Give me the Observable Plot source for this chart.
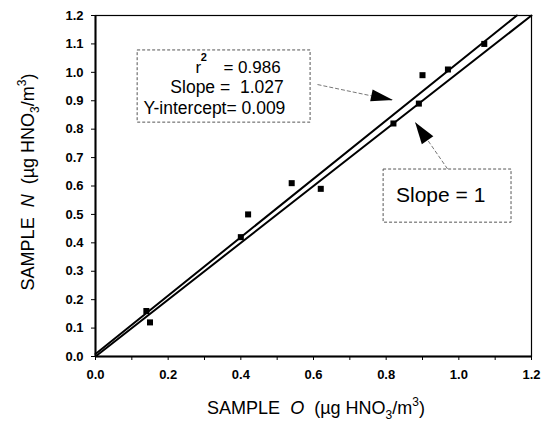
<!DOCTYPE html>
<html><head><meta charset="utf-8">
<script src="https://cdn.jsdelivr.net/npm/d3@7"></script>
<script src="https://cdn.jsdelivr.net/npm/@observablehq/plot@0.6"></script>
<style>body{margin:0;background:#fff}</style>
</head><body><div id="chart"></div>
<script>
// Data
const sampleO = [0.14, 0.15, 0.40, 0.42, 0.54, 0.62, 0.82, 0.89, 0.90, 0.97, 1.07];
const sampleN = [0.16, 0.12, 0.42, 0.50, 0.61, 0.59, 0.82, 0.89, 0.99, 1.01, 1.10];
const fitSlope = 1.027, fitIntercept = 0.009, r2 = 0.986;
const xTickVals = [0,0.1,0.2,0.3,0.4,0.5,0.6,0.7,0.8,0.9,1.0,1.1,1.2];
const yTickVals = [0,0.1,0.2,0.3,0.4,0.5,0.6,0.7,0.8,0.9,1.0,1.1,1.2];
const axisMax = 1.2;

const points = sampleO.map((x, i) => ({x, y: sampleN[i]}));
const fitLine = [{x: 0, y: fitIntercept}, {x: (axisMax - fitIntercept) / fitSlope, y: axisMax}];
const oneLine = [{x: 0, y: 0}, {x: axisMax, y: axisMax}];

const fmt = d3.format(".1f");
const font = "'Liberation Sans', Arial, sans-serif";

const boxes = [
  {x1: 0.116, x2: 0.592, y1: 0.823, y2: 1.077},
  {x1: 0.793, x2: 1.145, y1: 0.471, y2: 0.658}
];
const arrows = [
  {x1: 0.611, y1: 0.957, x2: 0.820, y2: 0.901},
  {x1: 0.969, y1: 0.660, x2: 0.881, y2: 0.823}
];

const plot = Plot.plot({
  width: 549, height: 421,
  marginLeft: 95, marginRight: 18, marginTop: 15, marginBottom: 65,
  x: {domain: [0, axisMax], label: null},
  y: {domain: [0, axisMax], label: null},
  style: {fontFamily: font, background: "#fff", color: "#000"},
  marks: [
    Plot.axisX({ticks: xTickVals, tickSize: 4, tickPadding: 9, fontSize: 13, fontWeight: "bold",
      tickFormat: d => (Math.round(d * 10) % 2 === 0 ? fmt(d) : "")}),
    Plot.axisY({ticks: yTickVals, tickSize: 4, tickPadding: 8, fontSize: 13, fontWeight: "bold", tickFormat: fmt}),
    Plot.line(fitLine, {x: "x", y: "y", stroke: "#000", strokeWidth: 2}),
    Plot.line(oneLine, {x: "x", y: "y", stroke: "#000", strokeWidth: 2}),
    Plot.dot(points, {x: "x", y: "y", symbol: "square", r: 3.4, fill: "#000"}),
    Plot.frame({stroke: "#000", strokeWidth: 1.2}),
    Plot.ruleX([0], {stroke: "#000", strokeWidth: 2}),
    Plot.ruleY([0], {stroke: "#000", strokeWidth: 2}),
    Plot.rect(boxes, {x1: "x1", x2: "x2", y1: "y1", y2: "y2", fill: "#fff", stroke: "#555", strokeWidth: 1, strokeDasharray: "3,2"}),
    Plot.link(arrows, {x1: "x1", y1: "y1", x2: "x2", y2: "y2", stroke: "#777", strokeWidth: 1, strokeDasharray: "4,2"}),
    Plot.text([{x: 0.275, y: 1.017, t: "r"}], {x: "x", y: "y", text: "t", textAnchor: "start", fontSize: 17}),
    Plot.text([{x: 0.290, y: 1.052, t: "2"}], {x: "x", y: "y", text: "t", textAnchor: "start", fontSize: 11, fontWeight: "bold"}),
    Plot.text([{x: 0.352, y: 1.017, t: "= " + r2.toFixed(3)}], {x: "x", y: "y", text: "t", textAnchor: "start", fontSize: 17}),
    Plot.text([{x: 0.206, y: 0.947, t: "Slope =  " + fitSlope.toFixed(3)}], {x: "x", y: "y", text: "t", textAnchor: "start", fontSize: 17.5}),
    Plot.text([{x: 0.132, y: 0.873, t: "Y-intercept= " + fitIntercept.toFixed(3)}], {x: "x", y: "y", text: "t", textAnchor: "start", fontSize: 17.5}),
    Plot.text([{x: 0.950, y: 0.567, t: "Slope = 1"}], {x: "x", y: "y", text: "t", textAnchor: "middle", fontSize: 21})
  ]
});

const svg = d3.select(plot);
const sx = plot.scale("x"), sy = plot.scale("y");
// filled arrowheads
for (const [a, L, W] of [[arrows[0], 22, 12], [arrows[1], 22, 14]]) {
  const X1 = sx.apply(a.x1), Y1 = sy.apply(a.y1), X2 = sx.apply(a.x2), Y2 = sy.apply(a.y2);
  const dx = X2 - X1, dy = Y2 - Y1, len = Math.hypot(dx, dy);
  const ux = dx / len, uy = dy / len, nx = -uy, ny = ux;
  const bx = X2 - ux * L, by = Y2 - uy * L;
  svg.append("polygon")
    .attr("points", [[X2, Y2], [bx + nx * W / 2, by + ny * W / 2], [bx - nx * W / 2, by - ny * W / 2]].map(p => p.join(",")).join(" "))
    .attr("fill", "#000");
}
// axis titles
function title(sel, letter) {
  sel.attr("text-anchor", "middle").attr("font-family", font).attr("font-size", 18).attr("fill", "#000");
  sel.append("tspan").text("SAMPLE  ");
  sel.append("tspan").attr("font-style", "italic").text(letter);
  sel.append("tspan").text("  (µg HNO");
  sel.append("tspan").attr("font-size", 12).attr("dy", 5).text("3");
  sel.append("tspan").attr("dy", -5).text("/m");
  sel.append("tspan").attr("font-size", 12).attr("dy", -8).text("3");
  sel.append("tspan").attr("dy", 8).text(")");
  return sel;
}
title(svg.append("text").attr("x", 316).attr("y", 414), "O");
title(svg.append("text").attr("transform", "translate(34,182) rotate(-90)"), "N");

document.getElementById("chart").appendChild(plot);
</script></body></html>
